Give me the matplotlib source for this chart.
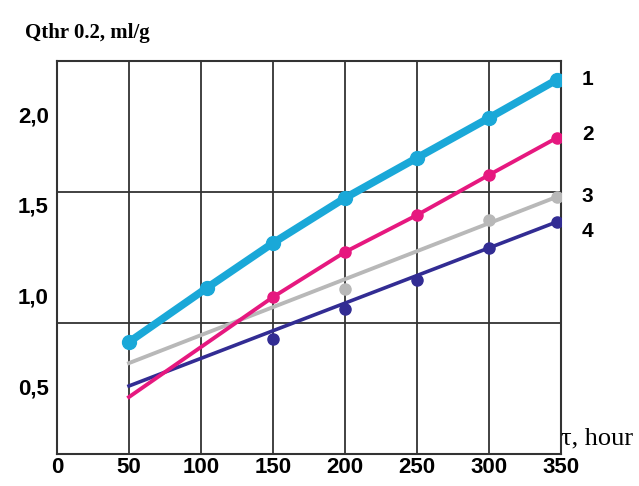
import matplotlib
matplotlib.use("Agg")
import matplotlib.pyplot as plt

# curve 1 (cyan, thick)
x1 = [50, 104, 150, 200, 250, 300, 347]
y1 = [0.744, 1.042, 1.290, 1.538, 1.759, 1.979, 2.189]
# curve 2 (magenta)
x2_line = [50, 150, 200, 250, 300, 347]
y2_line = [0.441, 0.992, 1.240, 1.444, 1.665, 1.869]
x2_pts = [150, 200, 250, 300, 347]
y2_pts = [0.992, 1.240, 1.444, 1.665, 1.869]
# curve 3 (grey), fitted line + measured points
x3_line = [50, 347]
y3_line = [0.628, 1.544]
x3_pts = [200, 300, 347]
y3_pts = [1.036, 1.417, 1.544]
# curve 4 (dark blue), fitted line + measured points
x4_line = [50, 347]
y4_line = [0.502, 1.406]
x4_pts = [150, 200, 250, 300, 347]
y4_pts = [0.761, 0.926, 1.086, 1.262, 1.406]

xticks = [0, 50, 100, 150, 200, 250, 300, 350]
yticks = [0.5, 1.0, 1.5, 2.0]
ytick_labels = ["0,5", "1,0", "1,5", "2,0"]
hgrid = [0.85, 1.57]
curve_names = ["1", "2", "3", "4"]

c1, c2, c3, c4 = "#1aa8d8", "#e6187f", "#b8b8b8", "#322c93"

fig = plt.figure(figsize=(6.39, 4.86), dpi=100)
ax = fig.add_axes([57/639, 32/486, 504/639, 393/486])

ax.plot(x1, y1, color=c1, lw=5.5, marker="o", ms=10, solid_capstyle="round", zorder=5)
ax.plot(x2_line, y2_line, color=c2, lw=2.8, zorder=4)
ax.plot(x2_pts, y2_pts, "o", color=c2, ms=8, zorder=4)
ax.plot(x3_line, y3_line, color=c3, lw=2.8, zorder=3)
ax.plot(x3_pts, y3_pts, "o", color=c3, ms=8, zorder=3)
ax.plot(x4_line, y4_line, color=c4, lw=2.6, zorder=3)
ax.plot(x4_pts, y4_pts, "o", color=c4, ms=8, zorder=3)

ax.set_xlim(0, 350)
ax.set_ylim(0.127, 2.293)
ax.set_xticks(xticks)
ax.set_yticks(yticks)
ax.set_yticklabels(ytick_labels)
for xv in xticks[1:-1]:
    ax.axvline(xv, color="#333333", lw=1.3, zorder=1)
for yv in hgrid:
    ax.axhline(yv, color="#333333", lw=1.3, zorder=1)
for s in ax.spines.values():
    s.set_color("#333333")
    s.set_linewidth(1.5)
ax.tick_params(axis="x", length=0, pad=2)
ax.tick_params(axis="y", length=0, pad=6)
for lab in ax.get_xticklabels():
    lab.set_fontfamily("Liberation Sans")
    lab.set_fontweight("bold")
    lab.set_fontsize(16)
for lab in ax.get_yticklabels():
    lab.set_fontfamily("Liberation Sans")
    lab.set_fontweight("bold")
    lab.set_fontsize(16)

ends = [y1[-1], y2_line[-1], y3_line[-1], y4_line[-1]]
offsets = [0.0, 0.02, 0.0, -0.05]
for name, yv, dy in zip(curve_names, ends, offsets):
    ax.annotate(name, xy=(350, yv + dy), xytext=(15, 0), textcoords="offset points",
                fontsize=15, fontweight="bold", family="Liberation Sans",
                va="center", ha="left", annotation_clip=False)

fig.text(25/639, 1 - 33/486, "Qthr 0.2, ml/g", fontsize=15, fontweight="bold",
         family="Liberation Serif", va="center", ha="left")
fig.text(561/639, 1 - 438/486, "τ, hour", fontsize=19,
         family="Liberation Serif", va="center", ha="left")

fig.savefig("out.png", dpi=100)
